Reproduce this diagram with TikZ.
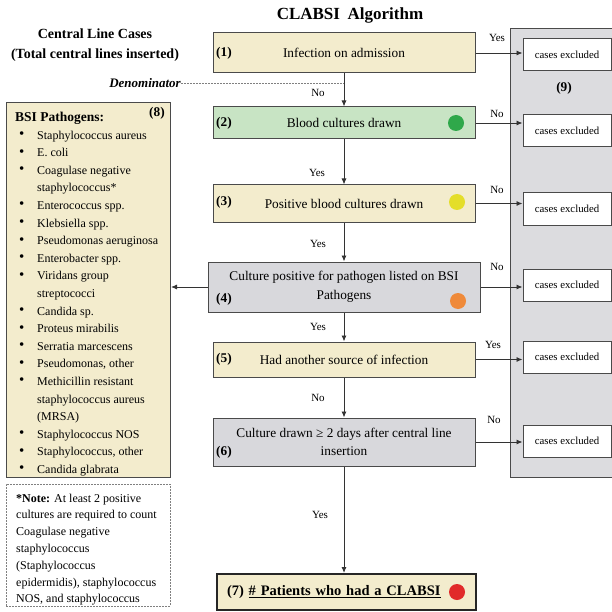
\documentclass[tikz,border=0pt]{standalone}
\usepackage{fontspec}
\setmainfont{Liberation Serif}
\usetikzlibrary{arrows.meta}
\definecolor{cbeige}{HTML}{F3ECCD}
\definecolor{cgreenbox}{HTML}{C8E4C4}
\definecolor{cgraybox}{HTML}{D8D8DC}
\definecolor{cpanel}{HTML}{DCDCDF}
\definecolor{cedge}{HTML}{4A4A4A}
\definecolor{dotgreen}{HTML}{2FA84A}
\definecolor{dotyellow}{HTML}{E4DE2A}
\definecolor{dotorange}{HTML}{EF8A3A}
\definecolor{dotred}{HTML}{E12A2A}
\newcommand{\bul}{\raisebox{0.5pt}{\fontsize{15}{15}\selectfont\textbullet}}

\begin{document}
\begin{tikzpicture}[x=1pt, y=-1pt, >={Latex[length=6pt,width=5pt]},
  algbox/.style={draw=cedge, line width=1pt, minimum width=262pt, align=center, inner sep=0pt, font=\fontsize{13.3}{18.5}\selectfont},
  exbox/.style={draw=cedge, fill=white, line width=1pt, minimum width=88pt, minimum height=32pt, inner sep=0pt, font=\fontsize{10.8}{12}\selectfont},
  num/.style={anchor=west, inner sep=0pt, font=\bfseries\fontsize{13.3}{15}\selectfont},
  lbl/.style={inner sep=0pt, font=\fontsize{11}{13}\selectfont},
  dot/.style={circle, minimum size=16pt, inner sep=0pt},
  flow/.style={->, line width=0.9pt, draw=black!80}]
\useasboundingbox (0,0) rectangle (612,612);
% grey panel of excluded cases
\node[draw=cedge, fill=cpanel, line width=1pt, minimum width=112pt, minimum height=449pt, anchor=north west] (panel) at (510,28) {};
\node[num, anchor=center] at (564,88) {(9)};
\foreach \i/\y in {1/55,2/131,3/209,4/285,5/357,6/441}
  \node[exbox] (e\i) at (567,\y) {cases excluded};
% titles
\node[font=\bfseries\fontsize{17}{20}\selectfont] (title) at (350,15) {CLABSI\hspace{0.45em}Algorithm};
\node[font=\bfseries\fontsize{14}{20}\selectfont, align=center] (clc) at (95,45) {Central Line Cases\\(Total central lines inserted)};
\node[font=\bfseries\itshape\fontsize{13}{15}\selectfont, anchor=east, inner sep=0pt] (den) at (181,83) {Denominator};
% algorithm steps
\node[algbox, fill=cbeige, minimum height=40pt] (b1) at (344,53) {Infection on admission};
\node[algbox, fill=cgreenbox, minimum height=32pt] (b2) at (344,123) {Blood cultures drawn};
\node[algbox, fill=cbeige, minimum height=37pt] (b3) at (344,203.5) {Positive blood cultures drawn};
\node[algbox, fill=cgraybox, minimum width=272pt, minimum height=50pt] (b4) at (344,287) {Culture positive for pathogen listed on BSI\\Pathogens};
\node[algbox, fill=cbeige, minimum height=35pt] (b5) at (344,359.5) {Had another source of infection};
\node[algbox, fill=cgraybox, minimum height=48pt] (b6) at (344,442) {Culture drawn ≥ 2 days after central line\\insertion};
\node[algbox, fill=cbeige, line width=2pt, draw=black!85, minimum width=259pt, minimum height=36pt, text width=239pt, align=left, font=\bfseries\fontsize{14.5}{17}\selectfont] (b7) at (346.5,592) {(7) \underline{\# Patients who had a CLABSI}};
\node[num] at (216,53) {(1)};\node[num] at (216,123) {(2)};\node[num] at (216,202) {(3)};
\node[num] at (216,299) {(4)};\node[num] at (216,359) {(5)};\node[num] at (216,452) {(6)};
\node[dot, fill=dotgreen] (d2) at (456,123) {};\node[dot, fill=dotyellow] (d3) at (457,202) {};
\node[dot, fill=dotorange] (d4) at (458,301) {};\node[dot, fill=dotred] (d7) at (457,592) {};
% pathogen list
\node[draw=cedge, fill=cbeige, line width=1pt, minimum width=164pt, minimum height=375pt, anchor=north west] (b8) at (6,102) {};
\node[anchor=west, inner sep=0pt, font=\bfseries\fontsize{13.5}{15}\selectfont] (bsi) at (15,118) {BSI Pathogens:};
\node[num, anchor=center] at (157,113) {(8)};
\node[anchor=north west, inner sep=0pt, font=\fontsize{12}{17.6}\selectfont] (list) at (19,126.5) {%
\begin{tabular}{@{}p{18pt}@{}l@{}}
\bul & Staphylococcus aureus\\
\bul & E. coli\\
\bul & Coagulase negative\\
 & staphylococcus*\\
\bul & Enterococcus spp.\\
\bul & Klebsiella spp.\\
\bul & Pseudomonas aeruginosa\\
\bul & Enterobacter spp.\\
\bul & Viridans group\\
 & streptococci\\
\bul & Candida sp.\\
\bul & Proteus mirabilis\\
\bul & Serratia marcescens\\
\bul & Pseudomonas, other\\
\bul & Methicillin resistant\\
 & staphylococcus aureus\\
 & (MRSA)\\
\bul & Staphylococcus NOS\\
\bul & Staphylococcus, other\\
\bul & Candida glabrata
\end{tabular}};
% note
\node[draw=gray, dashed, dash pattern=on 2pt off 1pt, minimum width=164pt, minimum height=122pt, anchor=north west] (note) at (6,484) {};
\node[anchor=north west, inner sep=0pt, align=left, font=\fontsize{12}{16.8}\selectfont] (notetext) at (16,493.5) {\textbf{*Note:} At least 2 positive\\cultures are required to count\\Coagulase negative\\staphylococcus\\(Staphylococcus\\epidermidis), staphylococcus\\NOS, and staphylococcus};
% connectors
\draw[dashed, dash pattern=on 2pt off 1pt, gray] (den.east) -- (den.east -| b1.south);
\draw[flow] (b1) -- (b2);\draw[flow] (b2) -- (b3);\draw[flow] (b3) -- (b4);
\draw[flow] (b4) -- (b5);\draw[flow] (b5) -- (b6);\draw[flow] (b6.south) -- (b6.south |- b7.north);
\draw[flow] (b4.west) -- (b4.west -| b8.east);
\foreach \i in {1,...,6}
  \draw[flow] (b\i.east) -- (b\i.east -| e\i.west);
\node[lbl] at (318,93) {No};\node[lbl] at (317,173) {Yes};\node[lbl] at (318,244) {Yes};
\node[lbl] at (318,327) {Yes};\node[lbl] at (318,398) {No};\node[lbl] at (320,515) {Yes};
\node[lbl] at (497,38) {Yes};\node[lbl] at (497,114) {No};\node[lbl] at (497,190) {No};
\node[lbl] at (497,267) {No};\node[lbl] at (493,345) {Yes};\node[lbl] at (494,420) {No};
\end{tikzpicture}
\end{document}
